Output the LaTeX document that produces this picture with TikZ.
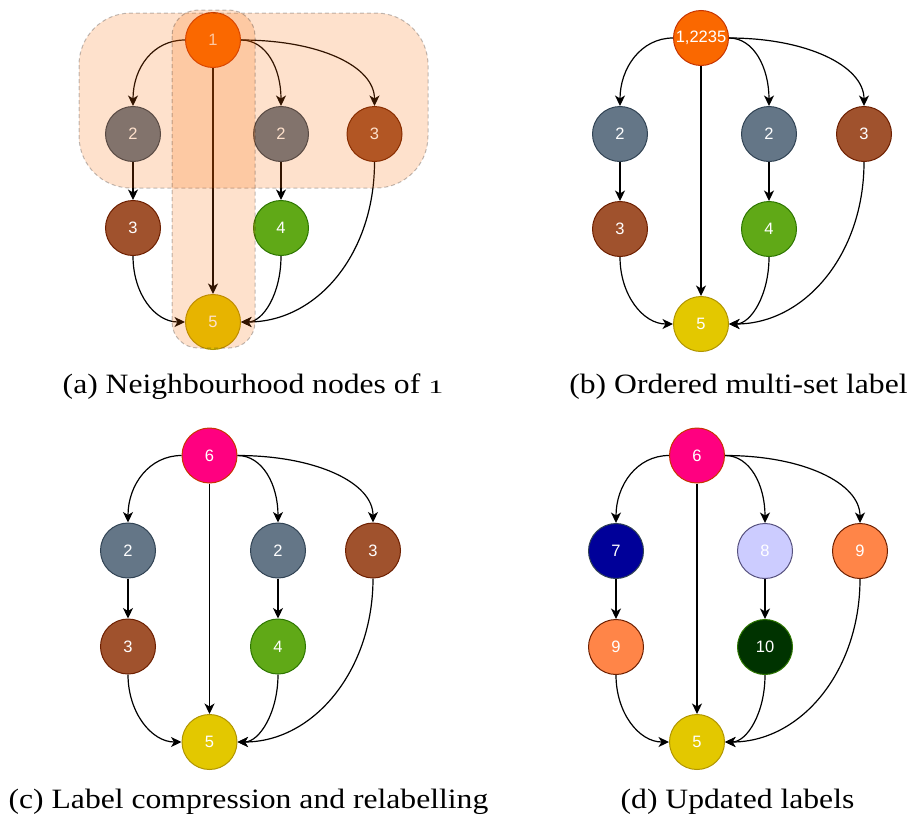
\documentclass[tikz,border=0pt]{standalone}
\usepackage{graphicx}
\usepackage{fontspec}
\setmainfont{Liberation Serif}[FakeStretch=1.13]
\newfontfamily\nodefont{Liberation Sans}
\usetikzlibrary{arrows.meta}

% node palette: fill / border
\definecolor{orF}{HTML}{FA6800}\definecolor{orD}{HTML}{C73500}
\definecolor{slF}{HTML}{647687}\definecolor{slD}{HTML}{314354}
\definecolor{brF}{HTML}{A0522D}\definecolor{brD}{HTML}{6D1F00}
\definecolor{grF}{HTML}{60A917}\definecolor{grD}{HTML}{2D7600}
\definecolor{yeF}{HTML}{E3C800}\definecolor{yeD}{HTML}{B09500}
\definecolor{pkF}{HTML}{FF0080}\definecolor{pkD}{HTML}{C73500}
\definecolor{nvF}{HTML}{000099}\definecolor{nvD}{HTML}{314354}
\definecolor{lvF}{HTML}{CCCCFF}\definecolor{lvD}{HTML}{56517E}
\definecolor{saF}{HTML}{FF8548}\definecolor{saD}{HTML}{6D1F00}
\definecolor{dgF}{HTML}{003300}\definecolor{dgD}{HTML}{2D7600}

\tikzset{
  vtx/.style={circle, minimum size=55pt, inner sep=0pt, line width=1pt,
    text=white, font=\nodefont\fontsize{16.5}{18}\selectfont},
  vor/.style={vtx, fill=orF, draw=orD},
  vsl/.style={vtx, fill=slF, draw=slD},
  vbr/.style={vtx, fill=brF, draw=brD},
  vgr/.style={vtx, fill=grF, draw=grD},
  vye/.style={vtx, fill=yeF, draw=yeD},
  vpk/.style={vtx, fill=pkF, draw=pkD},
  vnv/.style={vtx, fill=nvF, draw=nvD},
  vlv/.style={vtx, fill=lvF, draw=lvD},
  vsa/.style={vtx, fill=saF, draw=saD},
  vdg/.style={vtx, fill=dgF, draw=dgD},
  edge/.style={line width=1.2pt, -{Stealth[length=10.5pt, width=10pt, inset=3pt]}},
  hood/.style={fill=orF, fill opacity=0.2, draw=black, draw opacity=0.25,
    line width=1pt, dash pattern=on 4pt off 3pt},
  caption/.style={anchor=base, inner sep=0pt, font=\fontsize{28}{32}\selectfont},
}

% the nine edges of one graph, nodes named <prefix>t, l1, m1, r1, l2, m2, b
\newcommand\wiregraph[1]{%
  \draw[edge] (#1t.west) .. controls +(-32,0) and +(0,-38) .. (#1l1.north);
  \draw[edge] (#1t.east) .. controls +(25,0) and +(0,-38) .. (#1m1.north);
  \draw[edge] (#1t.east) .. controls +(78,0) and +(0,-40) .. (#1r1.north);
  \draw[edge] (#1t.south) -- (#1b.north);
  \draw[edge] (#1l1.south) -- (#1l2.north);
  \draw[edge] (#1m1.south) -- (#1m2.north);
  \draw[edge] (#1l2.south) .. controls +(0,38) and +(-30,0) .. (#1b.west);
  \draw[edge] (#1m2.south) .. controls +(0,38) and +(22,0) .. (#1b.east);
  \draw[edge] (#1r1.south) .. controls +(0,92) and +(76,0) .. (#1b.east);
}

% old-style figure one, x-height tall
\newcommand\oldone{\scalebox{0.95}[0.68]{1}}

\begin{document}
\begin{tikzpicture}[x=1pt, y=-1pt]
\useasboundingbox (0,0) rectangle (917,814);

% (a) neighbourhood of node 1
\node[vor] (at)  at (213,40)    {1};
\node[vsl] (al1) at (133,134)   {2};
\node[vsl] (am1) at (281,134)   {2};
\node[vbr] (ar1) at (374.5,134) {3};
\node[vbr] (al2) at (133,228)   {3};
\node[vgr] (am2) at (281,228)   {4};
\node[vye] (ab)  at (213,322)   {5};
\wiregraph{a}
\draw[hood, rounded corners=52pt] (79,13) rectangle (428,188);
\draw[hood, rounded corners=26pt] (172,10) rectangle (255,348);
\node[caption] (capa) at (253,393) {(a) Neighbourhood nodes of \oldone};

% (b) ordered multi-set label
\node[vor] (bt)  at (701,38)  {1,2235};
\node[vsl] (bl1) at (620,134) {2};
\node[vsl] (bm1) at (769,134) {2};
\node[vbr] (br1) at (864,134) {3};
\node[vbr] (bl2) at (620,229) {3};
\node[vgr] (bm2) at (769,229) {4};
\node[vye] (bb)  at (701,324) {5};
\wiregraph{b}
\node[caption] (capb) at (738.5,393) {(b) Ordered multi-set label};

% (c) label compression and relabelling
\node[vpk] (ct)  at (209.5,455.5) {6};
\node[vsl] (cl1) at (128,550.5)   {2};
\node[vsl] (cm1) at (278,550.5)   {2};
\node[vbr] (cr1) at (373,550.5)   {3};
\node[vbr] (cl2) at (128,646.5)   {3};
\node[vgr] (cm2) at (278,646.5)   {4};
\node[vye] (cb)  at (209.5,742)   {5};
\wiregraph{c}
\node[caption] (capc) at (248.5,808) {(c) Label compression and relabelling};

% (d) updated labels
\node[vpk] (dt)  at (697,455.5) {6};
\node[vnv] (dl1) at (616,551)   {7};
\node[vlv] (dm1) at (765,551)   {8};
\node[vsa] (dr1) at (860,551)   {9};
\node[vsa] (dl2) at (616,647)   {9};
\node[vdg] (dm2) at (765,647)   {10};
\node[vye] (db)  at (697,742)   {5};
\wiregraph{d}
\node[caption] (capd) at (737.5,808) {(d) Updated labels};
\end{tikzpicture}
\end{document}
